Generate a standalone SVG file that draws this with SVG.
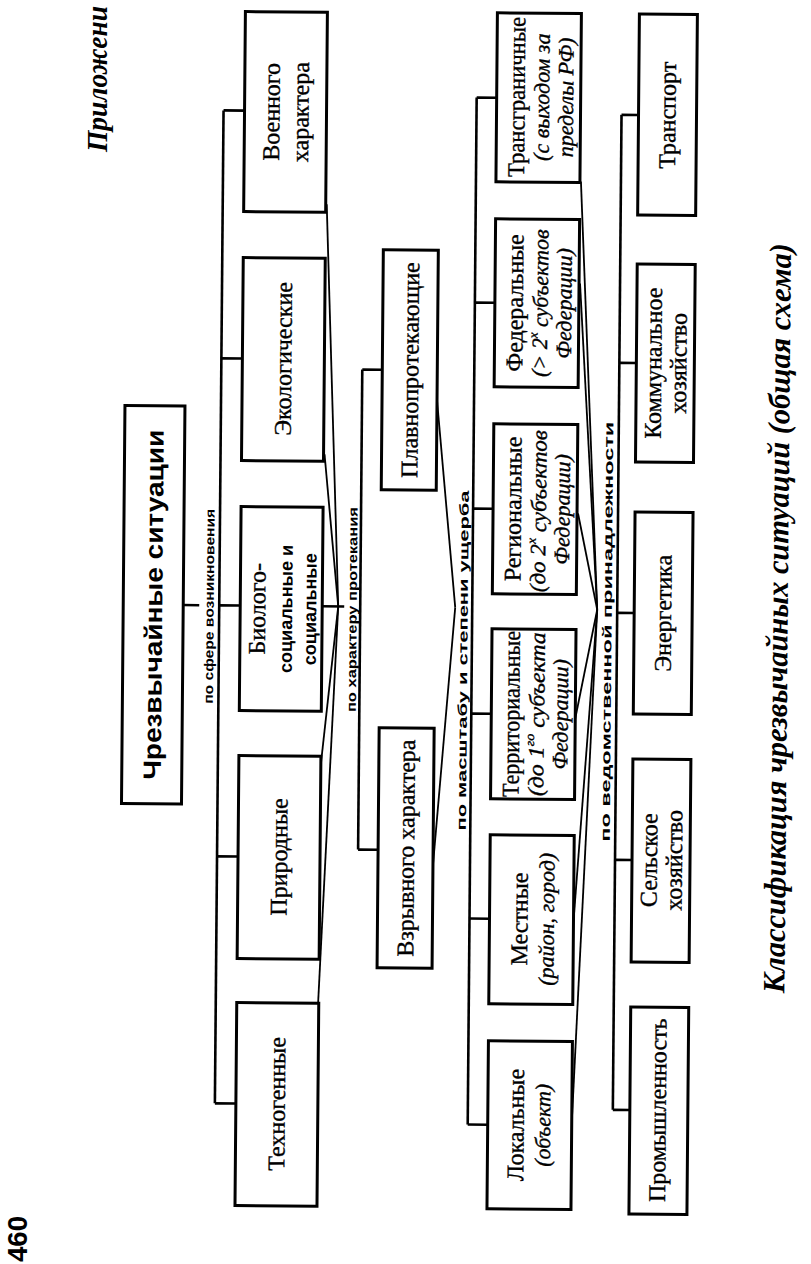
<svg xmlns="http://www.w3.org/2000/svg" width="811" height="1264" viewBox="0 0 811 1264">
<style>
.box{fill:#fff;stroke:#000;stroke-width:3}
.con{stroke:#000;stroke-width:2.6;fill:none}
.fan{stroke:#000;stroke-width:1.8;fill:none}
text{text-anchor:middle;dominant-baseline:central;fill:#000}
.s{font-family:"Liberation Serif","Times New Roman",serif;font-size:24px;stroke:#000;stroke-width:0.35}
.si{font-family:"Liberation Serif","Times New Roman",serif;font-size:22px;font-style:italic;stroke:#000;stroke-width:0.35}
.sb{font-family:"Liberation Sans",Arial,sans-serif;font-size:18px;font-weight:bold}
.lab{font-family:"Liberation Sans",Arial,sans-serif;font-size:13px;font-weight:bold}
.sup{font-size:13px}
</style>
<rect width="811" height="1264" fill="#fff"/>
<g transform="rotate(0.5 405 632)">
<g id="connectors">
<line class="con" x1="183" y1="607" x2="199" y2="607"/>
<line class="con" x1="219" y1="112" x2="219" y2="1105"/>
<line class="con" x1="219" y1="112" x2="240" y2="112"/>
<line class="con" x1="219" y1="360" x2="240" y2="360"/>
<line class="con" x1="219" y1="607" x2="240" y2="607"/>
<line class="con" x1="219" y1="858" x2="240" y2="858"/>
<line class="con" x1="219" y1="1105" x2="240" y2="1105"/>
<line class="fan" x1="323" y1="205" x2="338" y2="607"/>
<line class="fan" x1="323" y1="455" x2="338" y2="607"/>
<line class="con" x1="322" y1="607" x2="344" y2="607"/>
<line class="fan" x1="322" y1="765" x2="338" y2="607"/>
<line class="fan" x1="321" y1="1012" x2="338" y2="607"/>
<line class="con" x1="360" y1="370" x2="360" y2="850"/>
<line class="con" x1="360" y1="370" x2="380" y2="370"/>
<line class="con" x1="360" y1="850" x2="380" y2="850"/>
<line class="fan" x1="435" y1="400" x2="455" y2="607"/>
<line class="fan" x1="435" y1="865" x2="455" y2="607"/>
<line class="con" x1="472" y1="97" x2="472" y2="1124"/>
<line class="con" x1="472" y1="97" x2="492" y2="97"/>
<line class="con" x1="472" y1="302" x2="492" y2="302"/>
<line class="con" x1="472" y1="508" x2="492" y2="508"/>
<line class="con" x1="472" y1="713" x2="492" y2="713"/>
<line class="con" x1="472" y1="918" x2="492" y2="918"/>
<line class="con" x1="472" y1="1124" x2="492" y2="1124"/>
<line class="fan" x1="577" y1="180" x2="597" y2="608"/>
<line class="fan" x1="577" y1="282" x2="597" y2="608"/>
<line class="fan" x1="577" y1="512" x2="597" y2="608"/>
<line class="fan" x1="576" y1="717" x2="597" y2="608"/>
<line class="fan" x1="576" y1="920" x2="597" y2="608"/>
<line class="fan" x1="576" y1="1122" x2="597" y2="608"/>
<line class="con" x1="617" y1="113" x2="617" y2="1108"/>
<line class="con" x1="617" y1="113" x2="634" y2="113"/>
<line class="con" x1="617" y1="361" x2="634" y2="361"/>
<line class="con" x1="617" y1="611" x2="634" y2="611"/>
<line class="con" x1="617" y1="858" x2="634" y2="858"/>
<line class="con" x1="617" y1="1108" x2="634" y2="1108"/>
<text class="lab" transform="translate(209,608) rotate(-90)" textLength="195" lengthAdjust="spacingAndGlyphs">по сфере возникновения</text>
<text class="lab" transform="translate(352,610) rotate(-90)" textLength="205" lengthAdjust="spacingAndGlyphs">по характеру протекания</text>
<text class="lab" transform="translate(463,660) rotate(-90)" textLength="340" lengthAdjust="spacingAndGlyphs">по масштабу и степени ущерба</text>
<text class="lab" transform="translate(607,630) rotate(-90)" textLength="420" lengthAdjust="spacingAndGlyphs">по ведомственной принадлежности</text>
</g>
<g id="root">
<rect class="box" x="123" y="408" width="60" height="398"/>
<text transform="translate(153,607) rotate(-90)" style="font-family:'Liberation Sans',Arial,sans-serif;font-size:25px;font-weight:bold" textLength="350" lengthAdjust="spacingAndGlyphs">Чрезвычайные ситуации</text>
</g>
<g id="voennogo">
<rect class="box" x="240" y="13" width="82" height="200"/>
<text class="s" transform="translate(267,113) rotate(-90)">Военного</text>
<text class="s" transform="translate(296,113) rotate(-90)">характера</text>
</g>
<g id="ekologicheskie">
<rect class="box" x="240" y="259" width="82" height="203"/>
<text class="s" transform="translate(281,360) rotate(-90)">Экологические</text>
</g>
<g id="biologo">
<rect class="box" x="240" y="508" width="82" height="204"/>
<text class="s" transform="translate(257,610) rotate(-90)">Биолого-</text>
<text class="sb" transform="translate(286,610) rotate(-90)">социальные и</text>
<text class="sb" transform="translate(310,610) rotate(-90)">социальные</text>
</g>
<g id="prirodnye">
<rect class="box" x="240" y="757" width="82" height="203"/>
<text class="s" transform="translate(281,858) rotate(-90)">Природные</text>
</g>
<g id="tehnogennye">
<rect class="box" x="240" y="1004" width="82" height="203"/>
<text class="s" transform="translate(281,1105) rotate(-90)">Техногенные</text>
</g>
<g id="plavno">
<rect class="box" x="380" y="250" width="55" height="240"/>
<text class="s" transform="translate(408,370) rotate(-90)">Плавнопротекающие</text>
</g>
<g id="vzryvnogo">
<rect class="box" x="380" y="728" width="55" height="240"/>
<text class="s" transform="translate(408,848) rotate(-90)">Взрывного характера</text>
</g>
<g id="transgranichnye">
<rect class="box" x="492" y="12" width="84" height="169"/>
<text class="s" transform="translate(512,96) rotate(-90)" textLength="160" lengthAdjust="spacingAndGlyphs">Трансграничные</text>
<text class="si" transform="translate(537,96) rotate(-90)">(с выходом за</text>
<text class="si" transform="translate(561,96) rotate(-90)">пределы РФ)</text>
</g>
<g id="federalnye">
<rect class="box" x="492" y="218" width="84" height="168"/>
<text class="s" transform="translate(512,302) rotate(-90)">Федеральные</text>
<text class="si" transform="translate(537,302) rotate(-90)">(&gt; 2<tspan class="sup" dy="-7">х</tspan><tspan dy="7"> субъектов</tspan></text>
<text class="si" transform="translate(561,302) rotate(-90)">Федерации)</text>
</g>
<g id="regionalnye">
<rect class="box" x="492" y="423" width="84" height="170"/>
<text class="s" transform="translate(512,508) rotate(-90)">Региональные</text>
<text class="si" transform="translate(537,510) rotate(-90)" textLength="162" lengthAdjust="spacingAndGlyphs">(до 2<tspan class="sup" dy="-7">х</tspan><tspan dy="7"> субъектов</tspan></text>
<text class="si" transform="translate(561,508) rotate(-90)">Федерации)</text>
</g>
<g id="territorialnye">
<rect class="box" x="492" y="628" width="84" height="170"/>
<text class="s" transform="translate(512,713) rotate(-90)" textLength="166" lengthAdjust="spacingAndGlyphs">Территориальные</text>
<text class="si" transform="translate(537,713) rotate(-90)" textLength="164" lengthAdjust="spacingAndGlyphs">(до 1<tspan class="sup" dy="-7">го</tspan><tspan dy="7"> субъекта</tspan></text>
<text class="si" transform="translate(561,713) rotate(-90)">Федерации)</text>
</g>
<g id="mestnye">
<rect class="box" x="492" y="834" width="84" height="169"/>
<text class="s" transform="translate(522,918) rotate(-90)">Местные</text>
<text class="si" transform="translate(549,918) rotate(-90)">(район, город)</text>
</g>
<g id="lokalnye">
<rect class="box" x="492" y="1040" width="84" height="168"/>
<text class="s" transform="translate(520,1124) rotate(-90)">Локальные</text>
<text class="si" transform="translate(547,1124) rotate(-90)">(объект)</text>
</g>
<g id="transport">
<rect class="box" x="634" y="12" width="58" height="201"/>
<text class="s" transform="translate(663,113) rotate(-90)">Транспорт</text>
</g>
<g id="kommunalnoe">
<rect class="box" x="634" y="262" width="58" height="198"/>
<text class="s" transform="translate(651,361) rotate(-90)">Коммунальное</text>
<text class="s" transform="translate(676,361) rotate(-90)">хозяйство</text>
</g>
<g id="energetika">
<rect class="box" x="634" y="510" width="58" height="202"/>
<text class="s" transform="translate(663,611) rotate(-90)">Энергетика</text>
</g>
<g id="selskoe">
<rect class="box" x="634" y="757" width="58" height="203"/>
<text class="s" transform="translate(651,858) rotate(-90)">Сельское</text>
<text class="s" transform="translate(676,858) rotate(-90)">хозяйство</text>
</g>
<g id="promyshlennost">
<rect class="box" x="634" y="1005" width="58" height="207"/>
<text class="s" transform="translate(662,1108) rotate(-90)">Промышленность</text>
</g>
<text transform="translate(777,615) rotate(-90)" style="font-family:'Liberation Serif','Times New Roman',serif;font-size:31px;font-weight:bold;font-style:italic" textLength="750" lengthAdjust="spacingAndGlyphs">Классификация чрезвычайных ситуаций (общая схема)</text>
</g>
<text transform="translate(97,152) rotate(-90)" style="text-anchor:start;font-family:'Liberation Serif','Times New Roman',serif;font-size:29px;font-weight:bold;font-style:italic" textLength="146" lengthAdjust="spacingAndGlyphs">Приложени</text>
<text transform="translate(17,1262) rotate(-90)" style="text-anchor:start;font-family:'Liberation Sans',Arial,sans-serif;font-size:28px;font-weight:bold" textLength="46" lengthAdjust="spacingAndGlyphs">460</text>
</svg>
